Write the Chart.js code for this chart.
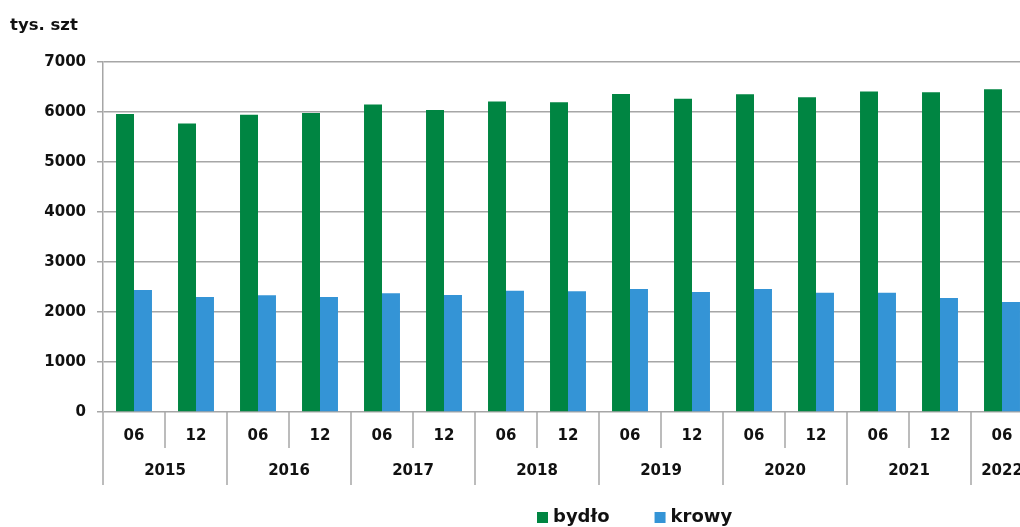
<!DOCTYPE html>
<html>
<head>
<meta charset="utf-8">
<script src="https://cdn.jsdelivr.net/npm/chart.js@4"></script>
<style>
  html, body { margin: 0; padding: 0; background: #fff; overflow: hidden; }
  #wrap { width: 1040px; height: 527px; }
</style>
</head>
<body>
<div id="wrap"><canvas id="chart" width="1040" height="527"></canvas></div>
<script>
// data (tys. szt)
const years = ["2015", "2016", "2017", "2018", "2019", "2020", "2021", "2022"];
const months = ["06", "12", "06", "12", "06", "12", "06", "12", "06", "12", "06", "12", "06", "12", "06"];
const bydlo = [5960, 5770, 5945, 5980, 6150, 6040, 6210, 6195, 6360, 6265, 6355, 6295, 6410, 6395, 6455];
const krowy = [2440, 2300, 2335, 2300, 2375, 2340, 2425, 2415, 2460, 2400, 2460, 2385, 2385, 2280, 2200];
const yTicks = [0, 1000, 2000, 3000, 4000, 5000, 6000, 7000];

const labels = months.map((m, i) => m + " " + years[Math.floor(i / 2)]);

const FONT = "'DejaVu Sans', sans-serif";
const TEXT = "#111111";
const GRID = "#a6a6a6";

//two-level x axis, unit title and legend
const extrasPlugin = {
  id: "extras",
  afterDraw(chart) {
    const ctx = chart.ctx;
    const x = chart.scales.x;
    const bottom = chart.chartArea.bottom;
    const step = x.getPixelForValue(1) - x.getPixelForValue(0);

    ctx.save();
    ctx.strokeStyle = GRID;
    ctx.lineWidth = 1.5;
    ctx.fillStyle = TEXT;
    ctx.textAlign = "center";
    ctx.textBaseline = "middle";
    ctx.font = "bold 15px " + FONT;

    months.forEach((m, i) => {
      const c = x.getPixelForValue(i);
      const left = c - step / 2;
      ctx.beginPath();
      ctx.moveTo(left, bottom);
      ctx.lineTo(left, i % 2 === 0 ? bottom + 73 : bottom + 36);
      ctx.stroke();
      ctx.fillText(m, c, bottom + 24);
    });

    years.forEach((y, j) => {
      const first = j * 2;
      const last = Math.min(first + 1, months.length - 1);
      const c = (x.getPixelForValue(first) + x.getPixelForValue(last)) / 2;
      ctx.fillText(y, c, bottom + 59);
    });

    // unit
    ctx.textAlign = "left";
    ctx.textBaseline = "alphabetic";
    ctx.font = "bold 16.5px " + FONT;
    ctx.fillText("tys. szt", 10, 30);

    // legend
    ctx.font = "bold 18px " + FONT;
    ctx.textBaseline = "middle";
    let lx = 537;
    chart.data.datasets.forEach((ds) => {
      ctx.fillStyle = ds.backgroundColor;
      ctx.fillRect(lx, 512, 11, 11);
      ctx.fillStyle = TEXT;
      ctx.fillText(ds.label, lx + 16, 517);
      lx += 16 + ctx.measureText(ds.label).width + 45;
    });
    ctx.restore();
  },
};

new Chart(document.getElementById("chart"), {
  type: "bar",
  data: {
    labels: labels,
    datasets: [
      {
        label: "bydło",
        data: bydlo,
        backgroundColor: "#008542",
        borderWidth: 0,
      },
      {
        label: "krowy",
        data: krowy,
        backgroundColor: "#3494d6",
        borderWidth: 0,
      },
    ],
  },
  options: {
    responsive: false,
    animation: false,
    devicePixelRatio: 1,
    layout: {
      padding: { top: 62, right: 7, bottom: 115, left: 0 },
    },
    datasets: {
      bar: {
        categoryPercentage: 0.58,
        barPercentage: 1,
      },
    },
    scales: {
      x: {
        display: false,
      },
      y: {
        min: 0,
        max: 7000,
        afterFit: (s) => {
          s.width = 103;
        },
        afterBuildTicks: (s) => {
          s.ticks = yTicks.map((v) => ({ value: v }));
        },
        ticks: {
          color: TEXT,
          padding: 11,
          font: { family: FONT, weight: "bold", size: 15 },
          callback: (v) => String(v),
        },
        grid: {
          color: GRID,
          lineWidth: 1.5,
          tickLength: 6,
        },
        border: { color: GRID, width: 1.5 },
      },
    },
    plugins: {
      legend: { display: false },
      tooltip: { enabled: false },
    },
  },
  plugins: [extrasPlugin],
});
</script>
</body>
</html>
